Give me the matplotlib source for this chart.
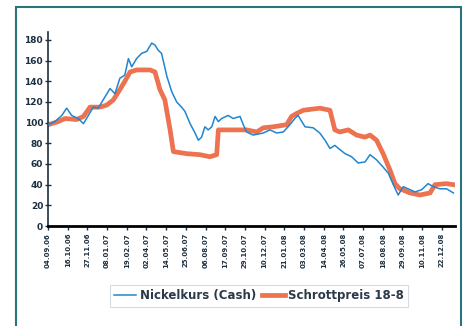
import matplotlib
matplotlib.use("Agg")
import matplotlib.pyplot as plt
from matplotlib.patches import Rectangle

# --- data (index, start = 100) ---
nickel_week = [0, 2.1, 4.2, 5.7, 7.2, 9.2, 10.8, 12.3, 13.8, 15.3, 16.8, 18.9, 20.4, 21.9, 23.4,
               24.5, 25.5, 27, 28.5, 30.1, 31.6, 32.6, 33.6, 34.6, 36.2, 37.7, 39.2, 40.7, 41.7,
               43.3, 44.8, 45.8, 46.8, 47.8, 48.8, 49.9, 50.9, 51.9, 52.9, 54.9, 56.4, 58.5, 59.5,
               60.5, 62.5, 65.6, 67.6, 69.7, 71.7, 73.7, 75.2, 76.2, 78.3, 80.8, 82.8, 84.4, 85.9,
               87.4, 88.9, 90.5, 92.5, 94.5, 96.6, 98.1, 100.1, 102.1, 103.7, 105.2, 106.7, 108.2,
               109.7, 111.8, 113.8, 115.8, 117.4, 119.4, 121.4, 123.5]
nickel_val = [98, 101, 107, 114, 107, 104, 99, 107, 115, 114, 122, 133, 128, 143, 146,
              162, 154, 162, 167, 169, 177, 175, 170, 167, 145, 130, 120, 115, 111,
              99, 90, 83, 86, 96, 93, 96, 106, 101, 104, 107, 104, 106, 98,
              91, 88, 90, 93, 90, 91, 98, 104, 107, 96, 95, 90, 83, 75,
              78, 74, 70, 67, 61, 62, 69, 64, 57, 51, 40, 30, 38,
              36, 33, 35, 41, 38, 36, 36, 32]

scrap_week = [0, 3.1, 5.2, 8.7, 10.8, 12.8, 15.8, 17.9, 19.9, 21.9, 23.4, 25, 27, 31.1, 32.6,
              34.1, 35.6, 37.2, 38.2, 42.2, 46.3, 49.3, 51.4, 51.9, 56.4, 60.5, 63.6, 65.6,
              68.6, 72.7, 74.2, 75.8, 77.8, 82.8, 85.9, 87.4, 88.9, 91.5, 94, 96.6, 98.1,
              100.1, 102.1, 104.2, 105.7, 107.2, 110.3, 113.3, 116.4, 117.9, 121.4, 123.5]
scrap_val = [98, 101, 104, 103, 106, 115, 115, 117, 122, 132, 140, 149, 151, 151, 149,
             132, 122, 93, 72, 70, 69, 67, 69, 93, 93, 93, 91, 95,
             96, 98, 106, 109, 112, 114, 112, 93, 91, 93, 88, 86, 88,
             83, 70, 54, 41, 36, 32, 30, 32, 40, 41, 40]

tick_labels = ["04.09.06", "16.10.06", "27.11.06", "08.01.07", "19.02.07", "02.04.07",
               "14.05.07", "25.06.07", "06.08.07", "17.09.07", "29.10.07", "10.12.07",
               "21.01.08", "03.03.08", "14.04.08", "26.05.08", "07.07.08", "18.08.08",
               "29.09.08", "10.11.08", "22.12.08"]
y_ticks = [0, 20, 40, 60, 80, 100, 120, 140, 160, 180]

BLUE = "#1f86d0"
ORANGE = "#ec7250"

fig = plt.figure(figsize=(4.67, 3.26), dpi=100)
fig.patches.append(Rectangle((15.5 / 467, -0.02), (461 - 15.5) / 467, 1 - 7.5 / 326 + 0.02,
                             transform=fig.transFigure, fill=False,
                             edgecolor="#2a7480", linewidth=1.5))

ax = fig.add_axes([48 / 467, 1 - 226 / 326, (455 - 48) / 467, (226 - 31.7) / 326])
ax.plot(scrap_week, scrap_val, color=ORANGE, lw=3.4, solid_joinstyle="round",
        label="Schrottpreis 18-8", zorder=2)
ax.plot(nickel_week, nickel_val, color=BLUE, lw=1.1, label="Nickelkurs (Cash)", zorder=3)

ax.set_xlim(0, 124)
ax.set_ylim(0, 188)
ax.set_yticks(y_ticks)
ax.set_yticklabels([str(v) for v in y_ticks], fontsize=6.5, fontweight="bold", color="#2b2b3a")
ax.set_xticks([i * 6 for i in range(len(tick_labels))])
ax.set_xticklabels(tick_labels, rotation=90, fontsize=5, fontweight="bold", color="#2b3a48")

for s in ["top", "right"]:
    ax.spines[s].set_visible(False)
ax.spines["left"].set_color("#1e3040")
ax.spines["left"].set_linewidth(1.2)
ax.spines["bottom"].set_color("black")
ax.spines["bottom"].set_linewidth(2)
ax.tick_params(axis="y", direction="inout", length=4, width=1, colors="#1e3040", pad=1.5)
ax.tick_params(axis="x", direction="out", length=3, width=1, colors="#1e3040", pad=2)
ax.set_facecolor("white")

h, l = ax.get_legend_handles_labels()
leg = fig.legend(h[::-1], l[::-1], loc="center", bbox_to_anchor=(259 / 467, 1 - 296 / 326),
                 ncol=2, frameon=True, fancybox=False, handlelength=1.9,
                 columnspacing=0.5, handletextpad=0.3, borderpad=0.35,
                 prop={"weight": "bold", "size": 8.5})
leg.get_frame().set_edgecolor("#c8d4e0")
leg.get_frame().set_linewidth(0.8)
for t in leg.get_texts():
    t.set_color("#2b3a48")

fig.savefig("out.png", dpi=100, facecolor="white")
